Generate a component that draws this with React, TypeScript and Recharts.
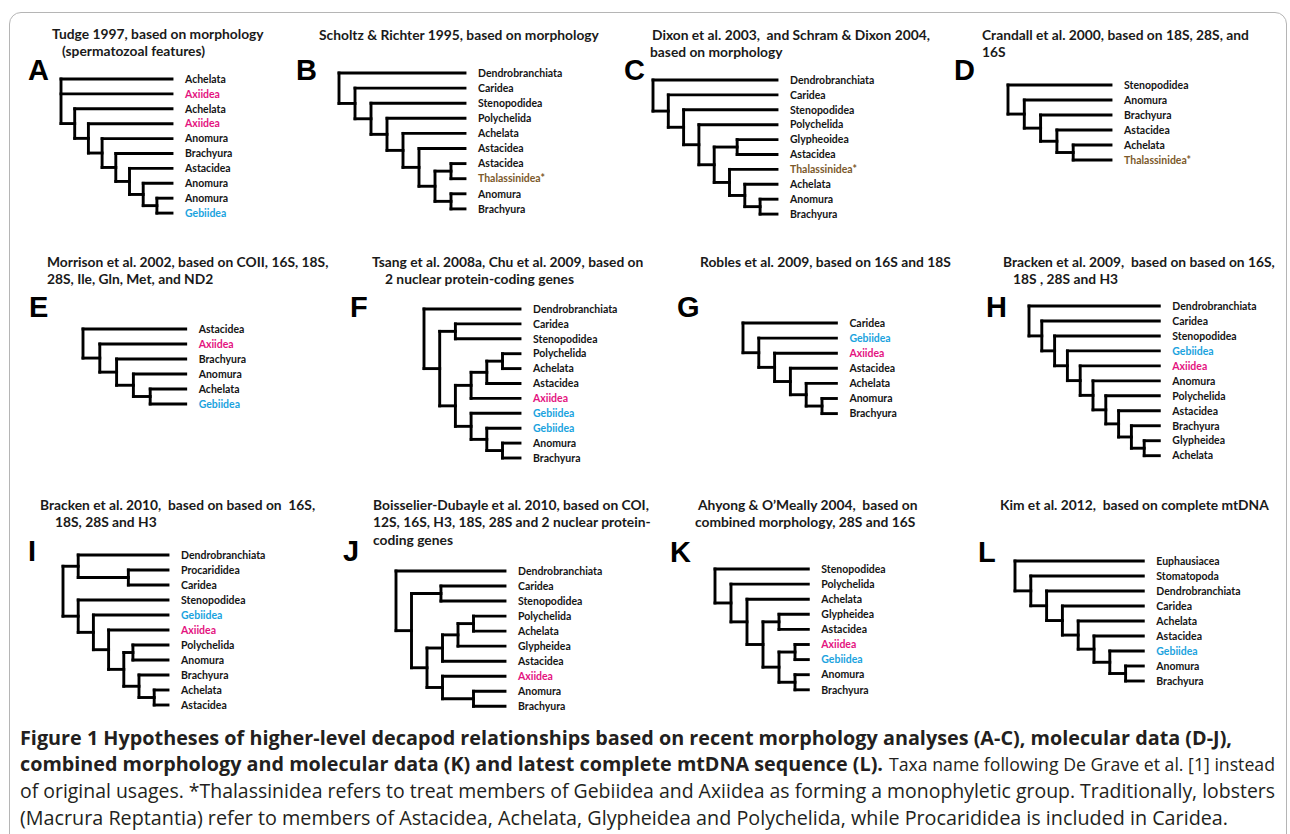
import { ReferenceLine, Scatter, ScatterChart, XAxis, YAxis } from "recharts"

// Trees in Newick form, one per panel; ":n" is a branch length in tree levels (default 1)
const TREES = [
  "(Achelata,Axiidea,(Achelata,(Axiidea,(Anomura,(Brachyura,(Astacidea,(Anomura,(Anomura,Gebiidea))))))))",
  "(Dendrobranchiata,(Caridea,(Stenopodidea,(Polychelida,(Achelata,(Astacidea,((Astacidea,Thalassinidea*),(Anomura,Brachyura))))))))",
  "(Dendrobranchiata,(Caridea,(Stenopodidea,(Polychelida,((Glypheoidea,Astacidea):1.5,(Thalassinidea*,(Achelata,(Anomura,Brachyura))))))))",
  "(Stenopodidea,(Anomura,(Brachyura,(Astacidea,(Achelata,Thalassinidea*)))))",
  "(Astacidea,(Axiidea,(Brachyura,(Anomura,(Achelata,Gebiidea)))))",
  "(Dendrobranchiata,((Caridea,Stenopodidea),((((Polychelida,Achelata),Astacidea),Axiidea),(Gebiidea,(Gebiidea,(Anomura,Brachyura))))))",
  "(Caridea,(Gebiidea,(Axiidea,(Astacidea,(Achelata,(Anomura,Brachyura))))))",
  "(Dendrobranchiata,(Caridea,(Stenopodidea,(Gebiidea,(Axiidea,(Anomura,(Polychelida,(Astacidea,(Brachyura,(Glypheidea,Achelata))))))))))",
  "((Dendrobranchiata,(Procarididea,Caridea):3.3),(Stenopodidea,(Gebiidea,(Axiidea,((Polychelida,Anomura):0.6,(Brachyura,(Achelata,Astacidea)))))))",
  "(Dendrobranchiata,((Caridea,Stenopodidea):1.9,((((Polychelida,Achelata),Glypheidea),Astacidea),(Axiidea,(Anomura,Brachyura):2))))",
  "(Stenopodidea,(Polychelida,(Achelata,((Glypheidea,Astacidea),((Axiidea,Gebiidea),(Anomura,Brachyura))))))",
  "(Euphausiacea,(Stomatopoda,(Dendrobranchiata,(Caridea,(Achelata,(Astacidea,(Gebiidea,(Anomura,Brachyura))))))))",
]

const PANEL_LETTERS = ["A", "B", "C", "D", "E", "F", "G", "H", "I", "J", "K", "L"]

const PANEL_TITLES = [
  ["Tudge 1997, based on morphology", "(spermatozoal features)"],
  ["Scholtz & Richter 1995, based on morphology"],
  ["Dixon et al. 2003,  and Schram & Dixon 2004,", "based on morphology"],
  ["Crandall et al. 2000, based on 18S, 28S, and", "16S"],
  ["Morrison et al. 2002, based on COII, 16S, 18S,", "28S, Ile, Gln, Met, and ND2"],
  ["Tsang et al. 2008a, Chu et al. 2009, based on", "2 nuclear protein-coding genes"],
  ["Robles et al. 2009, based on 16S and 18S"],
  ["Bracken et al. 2009,  based on based on 16S,", "18S , 28S and H3"],
  ["Bracken et al. 2010,  based on based on  16S,", "18S, 28S and H3"],
  ["Boisselier-Dubayle et al. 2010, based on COI,", "12S, 16S, H3, 18S, 28S and 2 nuclear protein-", "coding genes"],
  ["Ahyong & O\u2019Meally 2004,  based on", "combined morphology, 28S and 16S"],
  ["Kim et al. 2012,  based on complete mtDNA"],
]

const TAXON_COLORS: Record<string, string> = {
  Axiidea: "#e4147f",
  Gebiidea: "#1ba3de",
  "Thalassinidea*": "#7c5a2b",
}

// caption runs: text, bold, left x, width, line centre y, font size
const CAPTION_RUNS: [string, boolean, number, number, number, number][] = [
  [
    "Figure 1 Hypotheses of higher-level decapod relationships based on recent morphology analyses (A-C), molecular data (D-J),",
    true, 20, 1212, 738, 19.6,
  ],
  ["combined morphology and molecular data (K) and latest complete mtDNA sequence (L).", true, 20, 863, 764, 19.6],
  ["Taxa name following De Grave et al. [1] instead", false, 889, 386, 764, 18.4],
  [
    "of original usages. *Thalassinidea refers to treat members of Gebiidea and Axiidea as forming a monophyletic group. Traditionally, lobsters",
    false, 20, 1255, 791, 19.3,
  ],
  [
    "(Macrura Reptantia) refer to members of Astacidea, Achelata, Glypheidea and Polychelida, while Procarididea is included in Caridea.",
    false, 20, 1208, 818, 19.3,
  ],
]

// page layout of each panel, in px
const LAYOUT = [
  { rootX: 60.7, step: 13.7, leafX: 171.7, row0: 79, gap: 14.9, lx: 28, ly: 70, tx: 52, ty: 34, ind: [0, 10] },
  { rootX: 339, step: 16.0, leafX: 465, row0: 73.3, gap: 15.1, lx: 296, ly: 70, tx: 319, ty: 35, ind: [0] },
  { rootX: 653, step: 15.3, leafX: 777, row0: 80, gap: 14.9, lx: 624, ly: 70, tx: 652, ty: 35, ind: [0, -2] },
  { rootX: 1008, step: 16.3, leafX: 1111, row0: 85, gap: 15, lx: 954, ly: 70, tx: 982, ty: 35, ind: [0, 0] },
  { rootX: 83.3, step: 16.8, leafX: 186, row0: 329, gap: 15, lx: 29, ly: 307, tx: 47, ty: 262, ind: [0, 0] },
  { rootX: 424, step: 15.7, leafX: 520, row0: 309.3, gap: 14.9, lx: 350, ly: 307, tx: 372, ty: 262, ind: [0, 13] },
  { rootX: 743.3, step: 15.8, leafX: 836.7, row0: 322.7, gap: 15.1, lx: 677, ly: 307, tx: 700, ty: 262, ind: [0] },
  { rootX: 1029, step: 12.8, leafX: 1159.3, row0: 306, gap: 14.97, lx: 986, ly: 307, tx: 1003, ty: 262, ind: [0, 10] },
  { rootX: 63.3, step: 15.2, leafX: 168.3, row0: 555, gap: 15, lx: 28, ly: 551, tx: 40, ty: 505, ind: [0, 15] },
  { rootX: 396, step: 15.5, leafX: 505, row0: 570.7, gap: 15.03, lx: 343, ly: 551, tx: 373, ty: 505, ind: [0, 0, 0] },
  { rootX: 715, step: 16, leafX: 808.3, row0: 569.3, gap: 15.1, lx: 670, ly: 552, tx: 698, ty: 505, ind: [0, -3] },
  { rootX: 1015, step: 15.8, leafX: 1143.3, row0: 560.7, gap: 15, lx: 978, ly: 552, tx: 1000, ty: 505, ind: [0] },
]

const LABEL_GAP = 13
const LABEL_FONT = 10.5
const TITLE_FONT = 13.8

type TNode = { name: string; len: number; children: TNode[] }
type Pt = { x: number; y: number }

function parseNewick(s: string): TNode {
  let i = 0
  const read = (): TNode => {
    const n: TNode = { name: "", len: 1, children: [] }
    if (s[i] === "(") {
      i++
      n.children.push(read())
      while (s[i] === ",") {
        i++
        n.children.push(read())
      }
      i++
    }
    while (i < s.length && !",():".includes(s[i])) n.name += s[i++]
    if (s[i] === ":") {
      i++
      let num = ""
      while (i < s.length && !",()".includes(s[i])) num += s[i++]
      n.len = parseFloat(num)
    }
    return n
  }
  const root = read()
  root.len = 0
  return root
}

function layoutTree(root: TNode, leafDepth: number) {
  const leaves: { x: number; y: number; name: string }[] = []
  const segments: [Pt, Pt][] = []
  let row = 0
  const walk = (n: TNode, depth: number): Pt => {
    if (!n.children.length) {
      const p = { x: leafDepth, y: row++ }
      leaves.push({ ...p, name: n.name })
      return p
    }
    const kids = n.children.map((c) => walk(c, depth + c.len))
    segments.push([
      { x: depth, y: kids[0].y },
      { x: depth, y: kids[kids.length - 1].y },
    ])
    kids.forEach((k) => segments.push([{ x: depth, y: k.y }, { x: k.x, y: k.y }]))
    return { x: depth, y: (kids[0].y + kids[kids.length - 1].y) / 2 }
  }
  walk(root, 0)
  return { leaves, segments }
}

const LeafLabel = (props: any) => {
  const { cx, cy, payload } = props
  return (
    <text
      x={cx + LABEL_GAP}
      y={cy + LABEL_FONT * 0.36}
      fontFamily="Lato"
      fontWeight={700}
      fontSize={LABEL_FONT}
      fill={TAXON_COLORS[payload.name] ?? "#151515"}
    >
      {payload.name}
    </text>
  )
}

function TreePanel({ index }: { index: number }) {
  const L = LAYOUT[index]
  const leafDepth = (L.leafX - L.rootX) / L.step
  const { leaves, segments } = layoutTree(parseNewick(TREES[index]), leafDepth)
  const left = L.rootX - 8
  const top = L.row0 - 10
  const width = L.leafX + 140 - left
  const height = (leaves.length - 1) * L.gap + 20
  const xDomain = [(left - L.rootX) / L.step, (left + width - L.rootX) / L.step]
  const yDomain = [(top - L.row0) / L.gap, (top + height - L.row0) / L.gap]

  return (
    <>
      <div
        style={{
          position: "absolute",
          left: L.lx,
          top: L.ly - 14.2,
          fontFamily: "Liberation Sans",
          fontWeight: 700,
          fontSize: 29,
          lineHeight: "29px",
          color: "#000",
        }}
      >
        {PANEL_LETTERS[index]}
      </div>
      {PANEL_TITLES[index].map((line, j) => (
        <div
          key={j}
          style={{
            position: "absolute",
            left: L.tx + (L.ind[j] ?? 0),
            top: L.ty + j * 17.5 - 9.3,
            fontFamily: "Lato",
            fontWeight: 700,
            fontSize: TITLE_FONT,
            lineHeight: "18px",
            whiteSpace: "pre",
            color: "#1a1a1a",
          }}
        >
          {line}
        </div>
      ))}
      <div style={{ position: "absolute", left, top }}>
        <ScatterChart width={width} height={height} margin={{ top: 0, right: 0, bottom: 0, left: 0 }}>
          <XAxis type="number" dataKey="x" domain={xDomain} allowDataOverflow hide height={0} />
          <YAxis type="number" dataKey="y" domain={yDomain} allowDataOverflow reversed hide width={0} />
          {segments.map((seg, k) => (
            <ReferenceLine
              key={k}
              segment={seg}
              stroke="#000"
              strokeWidth={2.9}
              strokeLinecap="square"
              ifOverflow="visible"
            />
          ))}
          <Scatter data={leaves} shape={LeafLabel} isAnimationActive={false} />
        </ScatterChart>
      </div>
    </>
  )
}

export default function App() {
  return (
    <div
      style={{
        position: "absolute",
        left: 0,
        top: 0,
        width: 1290,
        height: 834,
        background: "#fff",
        overflow: "hidden",
      }}
    >
      <div
        style={{
          position: "absolute",
          left: 9,
          top: 12,
          width: 1276,
          height: 900,
          border: "1px solid #b5b5b5",
          borderRadius: 12,
        }}
      />
      {TREES.map((_, i) => (
        <TreePanel key={i} index={i} />
      ))}
      <svg width={1290} height={110} style={{ position: "absolute", left: 0, top: 724 }}>
        {CAPTION_RUNS.map(([text, bold, x, w, y, size], k) => (
          <text
            key={k}
            x={x}
            y={y - 724 + size * 0.36}
            textLength={w}
            lengthAdjust="spacingAndGlyphs"
            fontFamily="Open Sans"
            fontWeight={bold ? 700 : 400}
            fontSize={size}
            fill="#231f20"
          >
            {text}
          </text>
        ))}
      </svg>
    </div>
  )
}
